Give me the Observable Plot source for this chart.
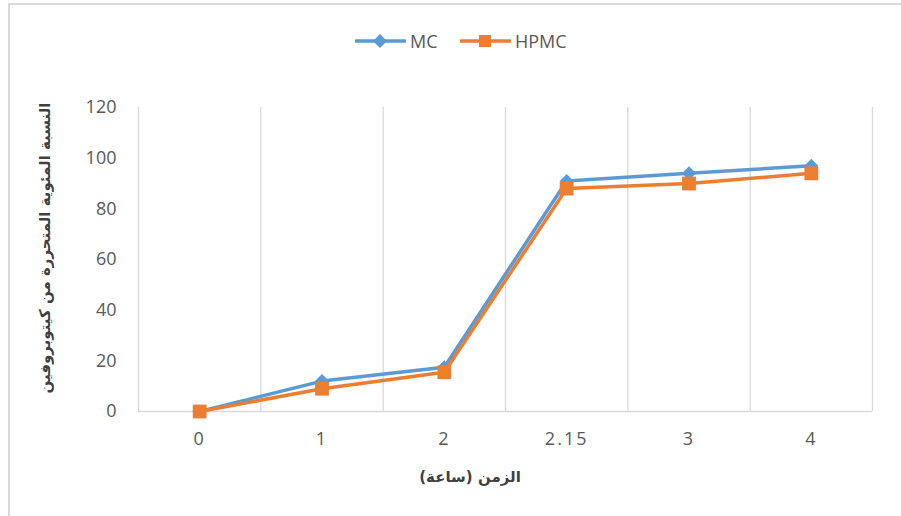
<!DOCTYPE html>
<html><head><meta charset="utf-8">
<script src="https://cdn.jsdelivr.net/npm/d3@7"></script>
<script src="https://cdn.jsdelivr.net/npm/@observablehq/plot@0.6"></script>
<style>
body{margin:0;background:#fff;}
#wrap{position:relative;width:901px;height:516px;overflow:hidden;font-family:"Open Sans",sans-serif;background:#fff;}
#frame{position:absolute;left:8px;top:3px;width:920px;height:540px;border-top:2px solid #d9d9d9;border-left:2px solid #d9d9d9;}
#chart{position:absolute;left:0;top:0;}
#legend{position:absolute;top:27px;left:0;width:901px;height:28px;}
.lg{position:absolute;top:0;display:flex;align-items:center;height:28px;font-size:18px;color:#595959;}
#ytitle{position:absolute;left:45px;top:248px;transform:translate(-50%,-50%) rotate(-90deg);white-space:nowrap;font-family:"DejaVu Sans",sans-serif;font-weight:bold;font-size:15px;color:#404040;direction:rtl;}
#xtitle{position:absolute;left:470px;top:477px;transform:translate(-50%,-50%);white-space:nowrap;font-family:"DejaVu Sans",sans-serif;font-weight:bold;font-size:15px;color:#404040;direction:rtl;}
#chart g[aria-label="x-axis tick label"] text{letter-spacing:2px;}
</style></head><body>
<div id="wrap"><div id="frame"></div><div id="chart"></div><div id="legend"></div><div id="ytitle"></div><div id="xtitle"></div></div>
<script>
const categories = ["0","1","2","2.15","3","4"];
const mcValues = [0, 12, 17.5, 91, 94, 97];
const hpmcValues = [0, 9, 15.5, 88, 90, 94];
const yTicks = [0, 20, 40, 60, 80, 100, 120];
const seriesNames = ["MC", "HPMC"];
const seriesColors = ["#5B9BD5", "#ED7D31"];
const xTitle = "الزمن (ساعة)";
const yTitle = "النسبة المئوية المتحررة من كيتوبروفين";

const mcRows = categories.map((c, i) => ({i, c, v: mcValues[i]}));
const hpmcRows = categories.map((c, i) => ({i, c, v: hpmcValues[i]}));

const chart = Plot.plot({
  width: 901, height: 516,
  marginTop: 107, marginBottom: 105, marginLeft: 138, marginRight: 29,
  x: {type: "linear", domain: [-0.5, categories.length - 0.5]},
  y: {domain: [0, 120]},
  style: {fontFamily: "Open Sans", fontSize: "18px", color: "#595959", background: "transparent", overflow: "visible"},
  marks: [
    Plot.ruleX(d3.range(categories.length + 1).map(k => k - 0.5), {stroke: "#d9d9d9", strokeWidth: 1.3}),
    Plot.ruleY([0], {stroke: "#d9d9d9", strokeWidth: 1.3}),
    Plot.axisY({ticks: yTicks, tickSize: 0, tickPadding: 22, label: null}),
    Plot.axisX({ticks: d3.range(categories.length), tickFormat: i => categories[i], tickSize: 0, tickPadding: 21, label: null}),
    Plot.line(mcRows, {x: "i", y: "v", stroke: seriesColors[0], strokeWidth: 3.5}),
    Plot.dot(mcRows, {x: "i", y: "v", symbol: "diamond2", r: 6.3, fill: seriesColors[0]}),
    Plot.line(hpmcRows, {x: "i", y: "v", stroke: seriesColors[1], strokeWidth: 3.5}),
    Plot.dot(hpmcRows, {x: "i", y: "v", symbol: "square", r: 7.8, fill: seriesColors[1]})
  ]
});
document.getElementById("chart").appendChild(chart);

// legend
const legend = document.getElementById("legend");
const lgPos = [355, 460];
seriesNames.forEach((name, k) => {
  const item = document.createElement("div");
  item.className = "lg";
  item.style.left = lgPos[k] + "px";
  const marker = k === 0
    ? `<polygon points="25,7 32,14 25,21 18,14" fill="${seriesColors[0]}"/>`
    : `<rect x="19" y="8" width="12" height="12" fill="${seriesColors[1]}"/>`;
  item.innerHTML = `<svg width="51" height="28"><line x1="1" x2="50" y1="14" y2="14" stroke="${seriesColors[k]}" stroke-width="3.5" stroke-linecap="round"/>${marker}</svg><span style="margin-left:4px">${name}</span>`;
  legend.appendChild(item);
});
document.getElementById("ytitle").textContent = yTitle;
document.getElementById("xtitle").textContent = xTitle;
</script>
</body></html>
